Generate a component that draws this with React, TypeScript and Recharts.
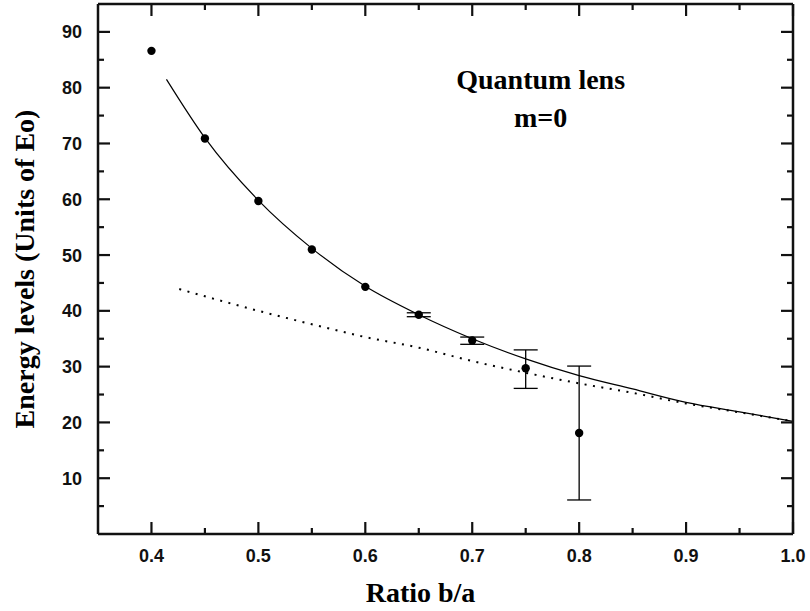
import React from 'react';
import { ComposedChart, Line, Scatter, ErrorBar, XAxis, YAxis, ReferenceDot } from 'recharts';

// measured points (ratio b/a -> energy)
const pointX = [0.4, 0.45, 0.5, 0.55, 0.6];
const pointY = [86.6, 70.9, 59.7, 51.0, 44.3];

// points carrying error bars
const errX = [0.65, 0.7, 0.75, 0.8];
const errY = [39.3, 34.7, 29.7, 18.1];
const errLow = [0.35, 0.7, 3.6, 12.0];
const errHigh = [0.35, 0.6, 3.3, 12.0];

// solid fit curve
const fitX = [0.414, 0.45, 0.5, 0.55, 0.6, 0.65, 0.7, 0.75, 0.8, 0.85, 0.9, 0.95, 1.0];
const fitY = [81.5, 71.0, 59.8, 51.2, 44.4, 39.3, 35.0, 31.4, 28.4, 26.0, 23.6, 21.9, 20.2];

// dotted curve
const dotX = [0.426, 0.45, 0.5, 0.55, 0.6, 0.65, 0.7, 0.75, 0.8, 0.85, 0.9, 0.95, 1.0];
const dotY = [43.9, 42.6, 40.0, 37.6, 35.3, 33.4, 31.0, 28.9, 27.0, 25.3, 23.4, 21.8, 20.2];

const xTicks = [0.4, 0.45, 0.5, 0.55, 0.6, 0.65, 0.7, 0.75, 0.8, 0.85, 0.9, 0.95, 1.0];
const yTicks = [5, 10, 15, 20, 25, 30, 35, 40, 45, 50, 55, 60, 65, 70, 75, 80, 85, 90];

const points = pointX.map((x, i) => ({ x, y: pointY[i] }));
const errPoints = errX.map((x, i) => ({ x, y: errY[i], err: [errLow[i], errHigh[i]] }));
const fitData = fitX.map((x, i) => ({ x, fit: fitY[i] }));
const dotData = dotX.map((x, i) => ({ x, dotted: dotY[i] }));

// layout
const W = 810;
const H = 611;
const MARGIN = { top: -16, right: -3, bottom: 0, left: 0 };
const TOP_AXIS_H = 20;
const BOTTOM_AXIS_H = 77;
const LEFT_AXIS_W = 98;
const RIGHT_AXIS_W = 20;
const PLOT_W = W - MARGIN.left - MARGIN.right - LEFT_AXIS_W - RIGHT_AXIS_W;
const PLOT_H = H - MARGIN.top - MARGIN.bottom - TOP_AXIS_H - BOTTOM_AXIS_H;

const INK = '#111111';
const MAJOR = 12;
const MINOR = 6;
const TICK_W = 2.2;

const isMajorX = (v: number) => Math.abs(v * 10 - Math.round(v * 10)) < 1e-6;

// left axis tick + mirrored tick on the right edge, both pointing inward
const renderLeftTick = (props: any) => {
  const { x, y, payload } = props;
  const v = payload.value;
  const major = v % 10 === 0;
  const len = major ? MAJOR : MINOR;
  const ax = Number(x) + 16;
  const rx = ax + PLOT_W;
  return (
    <g key={'l' + v}>
      <line x1={ax} x2={ax + len} y1={y} y2={y} stroke={INK} strokeWidth={TICK_W} />
      <line x1={rx} x2={rx - len} y1={y} y2={y} stroke={INK} strokeWidth={TICK_W} />
      {major ? (
        <text x={x} y={Number(y) + 6.5} textAnchor="end" fontFamily="Liberation Sans, Arial, sans-serif" fontWeight={700} fontSize={18} fill={INK}>
          {String(v)}
        </text>
      ) : null}
    </g>
  );
};

// bottom axis tick + mirrored tick on the top edge
const renderBottomTick = (props: any) => {
  const { x, y, payload } = props;
  const v = payload.value;
  const major = isMajorX(v);
  const len = major ? MAJOR : MINOR;
  const ay = Number(y) - 15;
  const ty = ay - PLOT_H;
  return (
    <g key={'b' + v}>
      <line x1={x} x2={x} y1={ay} y2={ay - len} stroke={INK} strokeWidth={TICK_W} />
      <line x1={x} x2={x} y1={ty} y2={ty + len} stroke={INK} strokeWidth={TICK_W} />
      {major ? (
        <text x={x} y={ay + 28} textAnchor="middle" fontFamily="Liberation Sans, Arial, sans-serif" fontWeight={700} fontSize={18} fill={INK}>
          {v.toFixed(1)}
        </text>
      ) : null}
    </g>
  );
};

const Dot = (props: any) => <circle cx={props.cx} cy={props.cy} r={4.2} fill="#000" />;

const axisStyle = { stroke: INK, strokeWidth: 2.5 };
const titleFont = { fontFamily: '"Liberation Serif", "Times New Roman", serif', fontWeight: 700, fontSize: 28, fill: '#000' };

export default function App() {
  return (
    <div style={{ position: 'absolute', left: 0, top: 0, background: '#fff' }}>
      <ComposedChart width={W} height={H} margin={MARGIN}>
        <XAxis
          type="number"
          dataKey="x"
          domain={[0.35, 1.0]}
          ticks={xTicks}
          interval={0}
          height={BOTTOM_AXIS_H}
          tickSize={0}
          tickMargin={15}
          tick={renderBottomTick}
          axisLine={axisStyle}
          label={{ value: 'Ratio b/a', position: 'insideBottom', offset: 9, dx: -25, style: titleFont }}
        />
        <XAxis
          xAxisId="top"
          orientation="top"
          type="number"
          dataKey="x"
          domain={[0.35, 1.0]}
          ticks={xTicks}
          interval={0}
          height={TOP_AXIS_H}
          tickSize={0}
          tickMargin={0}
          tick={false}
          axisLine={axisStyle}
        />
        <YAxis
          type="number"
          domain={[0, 95]}
          ticks={yTicks}
          interval={0}
          width={LEFT_AXIS_W}
          tickSize={0}
          tickMargin={16}
          tick={renderLeftTick}
          axisLine={axisStyle}
          label={{ value: 'Energy levels (Units of Eo)', angle: -90, position: 'center', dx: -25, style: titleFont }}
        />
        <YAxis
          yAxisId="right"
          orientation="right"
          type="number"
          domain={[0, 95]}
          ticks={yTicks}
          interval={0}
          width={RIGHT_AXIS_W}
          tickSize={0}
          tickMargin={0}
          tick={false}
          axisLine={axisStyle}
        />
        <Line data={dotData} dataKey="dotted" type="monotone" stroke="#000" strokeWidth={2} strokeDasharray="2 6.5" dot={false} isAnimationActive={false} />
        <Line data={fitData} dataKey="fit" type="monotone" stroke="#000" strokeWidth={1.2} dot={false} isAnimationActive={false} />
        <Scatter data={points} dataKey="y" shape={<Dot />} isAnimationActive={false} />
        <Scatter data={errPoints} dataKey="y" shape={<Dot />} isAnimationActive={false}>
          <ErrorBar dataKey="err" direction="y" width={12} stroke="#000" strokeWidth={1.3} />
        </Scatter>
        <ReferenceDot x={0.764} y={81.6} r={0} fill="none" stroke="none" label={{ value: 'Quantum lens', position: 'center', style: titleFont }} />
        <ReferenceDot x={0.764} y={74.8} r={0} fill="none" stroke="none" label={{ value: 'm=0', position: 'center', style: titleFont }} />
      </ComposedChart>
    </div>
  );
}
